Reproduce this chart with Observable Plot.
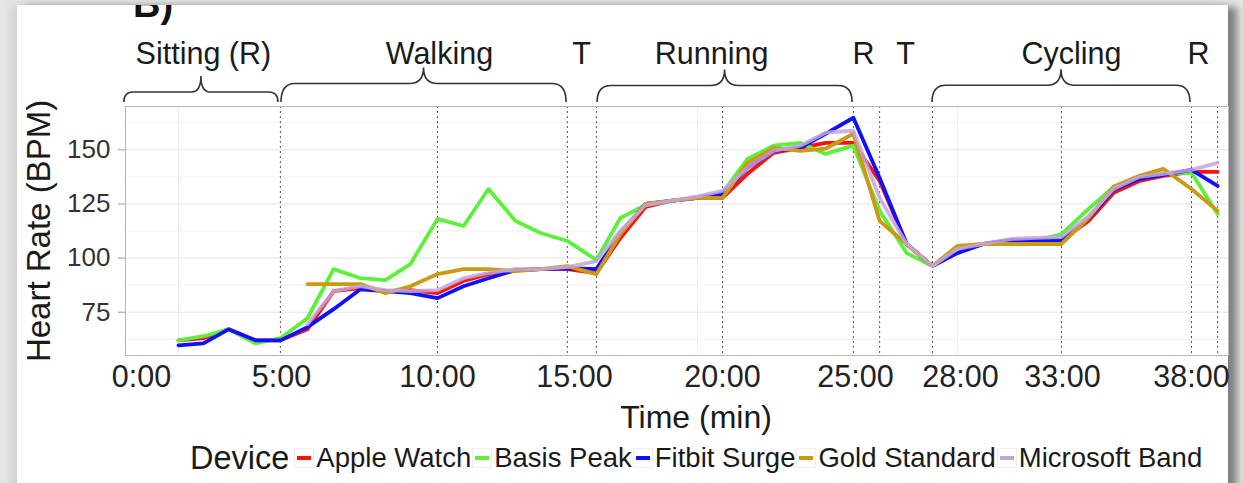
<!DOCTYPE html>
<html>
<head>
<meta charset="utf-8">
<script src="https://cdn.jsdelivr.net/npm/d3@7"></script>
<script src="https://cdn.jsdelivr.net/npm/@observablehq/plot@0.6"></script>
<style>
  html, body { margin: 0; padding: 0; width: 1243px; height: 483px; overflow: hidden; background: #e6e6e6;
    font-family: "Liberation Sans", Arial, sans-serif; }
  #card { position: absolute; left: 17px; top: 5px; width: 1211px; height: 500px; background: #fff; overflow: hidden;
    box-shadow: -6px 0 10px rgba(0,0,0,0.10), 9px 2px 8px rgba(0,0,0,0.45); }
  #tag { position: absolute; left: 116px; top: -22px; font: bold 38px "Liberation Sans", Arial, sans-serif; color: #111; }
  #chart { position: absolute; left: 0; top: 0; }
  #legend { position: absolute; left: 190px; top: 438px; height: 40px; display: flex; align-items: center; color: #1a1a1a; white-space: nowrap; }
  #legend .title { font-size: 32.5px; margin-right: 4px; }
  #legend .item { display: flex; align-items: center; font-size: 27.5px; }
  #legend .key { width: 18px; height: 18px; border: 1px solid #eee; position: relative; margin: 0 2px 0 1px; background: #fff; }
  #legend .key span { position: absolute; left: 2px; right: 2px; top: 7px; height: 4px; }
</style>
</head>
<body>
<div id="card"><div id="tag">B)</div></div>
<div id="chart"></div>
<div id="legend"></div>
<script>
// ---- data ----
const devices = ["Apple Watch", "Basis Peak", "Fitbit Surge", "Gold Standard", "Microsoft Band"];
const deviceColors = ["#ff1010", "#5cf03a", "#1010ff", "#cc9912", "#c4a4dc"];

// sample times (minutes on the chart's time axis)
const time = [1.32, 2.21, 3.11, 4.07, 4.96,
  5.83, 6.67, 7.53, 8.33, 9.13, 10, 10.95, 11.86, 12.85, 13.76, 14.74,
  15.74, 16.55, 17.40, 18.24, 19.16, 20, 20.94, 21.92, 22.93, 23.87, 24.92,
  25.69, 26.46, 27.2,
  27.91, 29.13, 30.45, 31.68, 32.95, 34.01, 34.98, 35.98, 36.91, 38, 39.01];

const appleWatch = [62.0, 63.0, 67.1, 62.0, 62.0,
  67.1, 84.7, 86.1, 84.7, 85.2, 83.8, 89.4, 92.6, 94.4, 94.9, 94.9,
  93.1, 109.3, 123.6, 126.4, 127.8, 127.8, 138.9, 148.6, 150.9, 153.2, 153.2,
  135.6, 106.5, 96.3,
  103.2, 106.5, 107.5, 108.0, 108.3, 117.1, 130.1, 135.6, 138.0, 139.8, 139.8];

const basisPeak = [62.0, 63.9, 67.1, 60.6, 63.0,
  72.2, 94.9, 90.7, 89.8, 97.2, 118.1, 114.8, 131.9, 117.1, 111.6, 107.9,
  99.1, 118.5, 124.5, 126.4, 127.8, 130.1, 145.8, 151.9, 153.2, 148.1, 151.9,
  121.8, 102.3, 96.3,
  104.2, 106.5, 107.5, 108.0, 111.1, 122.7, 132.9, 137.5, 139.0, 139.4, 120.4];

const fitbitSurge = [59.7, 60.6, 67.1, 62.0, 62.0,
  68.1, 76.4, 85.6, 84.7, 83.8, 81.5, 87.0, 90.7, 94.4, 94.9, 95.3,
  94.9, 111.6, 125.0, 126.4, 127.8, 129.6, 141.7, 149.5, 150.9, 157.4, 164.8,
  137.0, 106.5, 96.3,
  102.3, 106.5, 108.3, 108.3, 108.3, 118.1, 131.5, 136.6, 138.4, 140.7, 133.3];

const goldStandard = [null, null, null, null, null,
  88.0, 88.0, 88.0, 83.8, 87.0, 92.6, 94.9, 94.9, 94.0, 94.9, 96.3,
  92.6, 111.1, 125.0, 126.4, 127.8, 127.8, 144.0, 150.9, 149.5, 150.5, 157.4,
  117.1, 106.5, 96.3,
  105.6, 106.5, 106.5, 106.5, 106.5, 118.5, 132.9, 138.0, 141.2, 131.9, 121.8];

const microsoftBand = [null, null, null, null, null,
  69.4, 84.7, 87.0, 85.2, 84.7, 85.2, 90.7, 93.1, 94.9, 94.9, 95.8,
  98.6, 112.5, 124.5, 126.4, 128.5, 131.0, 141.7, 149.5, 151.9, 157.9, 158.8,
  127.8, 106.5, 96.3,
  104.2, 106.5, 108.8, 109.3, 109.7, 119.4, 131.9, 137.5, 138.9, 140.7, 144.0];

const xTicks = [0, 5, 10, 15, 20, 25, 28, 33, 38];
const xTickLabels = ["0:00", "5:00", "10:00", "15:00", "20:00", "25:00", "28:00", "33:00", "38:00"];
const yTicks = [75, 100, 125, 150];
const yMinorTicks = [62.5, 87.5, 112.5, 137.5, 162.5];
const xMinorGrid = [1.32, 19.16, 27.91];

// activity boundaries (dashed lines)
const phaseBounds = [4.96, 10, 14.74, 15.74, 20, 24.92, 25.69, 27.2, 32.95, 38, 39.01];
// curly-brace spans
const braceStart = [-0.61, 5.0, 15.78, 27.2];
const braceEnd = [4.89, 14.71, 24.89, 37.96];
// top annotations
const topLabels = ["Sitting (R)", "Walking", "T", "Running", "R", "T", "Cycling", "R"];
const topLabelX = [2.21, 10.07, 15.24, 19.63, 25.23, 26.43, 33.35, 38.27];

(function () {
  // ---- build table ----
  const seriesValues = [appleWatch, basisPeak, fitbitSurge, goldStandard, microsoftBand];
  const rows = [];
  devices.forEach((dev, k) => {
    seriesValues[k].forEach((v, i) => { if (v != null) rows.push({device: dev, t: time[i], bpm: v}); });
  });

  const W = 1243, H = 440;
  const panelLeft = 125, panelRight = 1228, panelTop = 106, panelBottom = 355;

  // the original time axis is unevenly spaced between labelled minutes: piecewise warp
  const timeWarp = d3.scaleLinear()
    .domain([-0.57, 0, 5, 10, 15, 20, 25, 28, 33, 38, 39.43])
    .range([0, 16, 156, 312, 449, 597, 730, 835, 937, 1066, 1103]);
  const warpedTicks = xTicks.map(timeWarp);

  const braceMark = (index, scales, values, dimensions) => {
    const g = d3.create("svg:g").attr("fill", "none").attr("stroke", "#333").attr("stroke-width", 1.6);
    braceStart.forEach((s, i) => {
      const x1 = scales.x(timeWarp(s)), x2 = scales.x(timeWarp(braceEnd[i]));
      const w = x2 - x1, xm = (x1 + x2) / 2;
      const yEnd = dimensions.marginTop - 4;
      const depth = Math.max(9, w * 0.065);
      const yH = yEnd - depth, yTip = yH - 16;
      const r = Math.min(14, w * 0.06);
      g.append("path").attr("d",
        `M${x1},${yEnd} Q${x1},${yH} ${x1 + r},${yH} L${xm - r},${yH} Q${xm},${yH} ${xm},${yTip} ` +
        `Q${xm},${yH} ${xm + r},${yH} L${x2 - r},${yH} Q${x2},${yH} ${x2},${yEnd}`);
    });
    return g.node();
  };

  const chart = Plot.plot({
    width: W,
    height: H,
    marginLeft: panelLeft,
    marginRight: W - panelRight,
    marginTop: panelTop,
    marginBottom: H - panelBottom,
    style: {background: "transparent", fontFamily: "'Liberation Sans', Arial, sans-serif", overflow: "visible"},
    x: {type: "linear", transform: timeWarp, domain: [0, 1103]},
    y: {domain: [55, 170]},
    color: {domain: devices, range: deviceColors},
    marks: [
      Plot.gridY(yMinorTicks, {stroke: "#f2f2f2", strokeOpacity: 1}),
      Plot.gridY(yTicks, {stroke: "#e4e4e4", strokeOpacity: 1}),
      Plot.ruleX(xMinorGrid, {stroke: "#ececec"}),
      Plot.ruleX(phaseBounds, {stroke: "#555", strokeDasharray: "2,3", strokeWidth: 1}),
      Plot.frame({stroke: "#b8b8b8"}),
      Plot.axisY({ticks: yTicks, tickSize: 7, tickPadding: 8, fontSize: 26, label: null, stroke: "#999", fill: "#333"}),
      Plot.axisX({ticks: warpedTicks, tickFormat: d => xTickLabels[warpedTicks.indexOf(d)], tickSize: 0, tickPadding: 10,
        fontSize: 30.5, label: null, fill: "#222"}),
      Plot.line(rows, {x: "t", y: "bpm", z: "device", stroke: "device", strokeWidth: 3.8,
        strokeOpacity: d => d.device === "Microsoft Band" ? 0.85 : 1, strokeLinejoin: "round"}),
      Plot.text(topLabels, {x: topLabelX, text: d => d, frameAnchor: "top", lineAnchor: "bottom", dy: -43,
        fontSize: 30.5, fill: "#1a1a1a"}),
      braceMark,
      Plot.text(["Heart Rate (BPM)"], {frameAnchor: "left", textAnchor: "middle", rotate: -90, dx: -86, fontSize: 33, fill: "#1a1a1a"}),
      Plot.text(["Time (min)"], {frameAnchor: "bottom", lineAnchor: "bottom", dy: 72, dx: 19, fontSize: 32, fill: "#1a1a1a"})
    ]
  });
  document.getElementById("chart").appendChild(chart);

  // ---- legend ----
  const legend = document.getElementById("legend");
  const ttl = document.createElement("span");
  ttl.className = "title"; ttl.textContent = "Device";
  legend.appendChild(ttl);
  devices.forEach((d, i) => {
    const it = document.createElement("div"); it.className = "item";
    const k = document.createElement("div"); k.className = "key";
    const s = document.createElement("span"); s.style.background = deviceColors[i];
    k.appendChild(s); it.appendChild(k);
    const l = document.createElement("span"); l.textContent = d; it.appendChild(l);
    legend.appendChild(it);
  });
})();
</script>
</body>
</html>
